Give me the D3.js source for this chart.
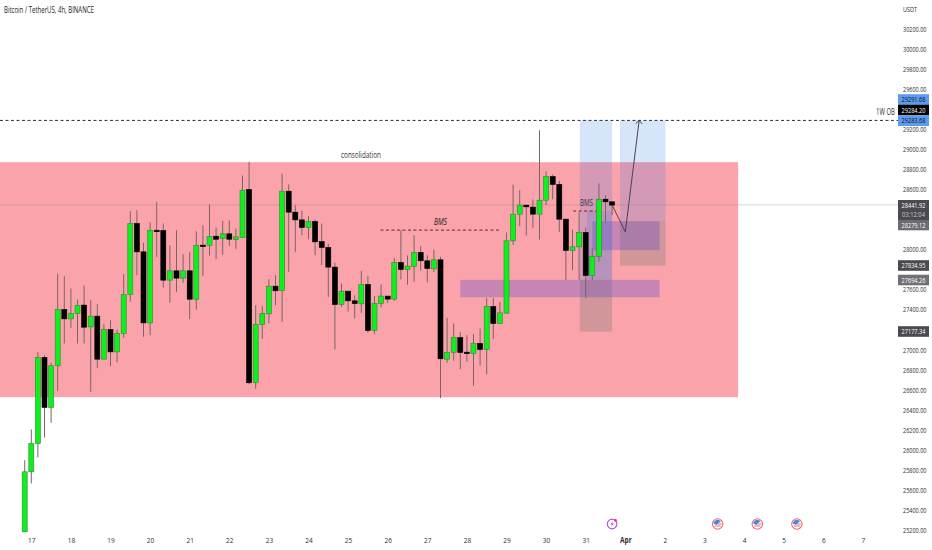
<!DOCTYPE html>
<html>
<head>
<meta charset="utf-8">
<style>
  html, body { margin: 0; padding: 0; background: #fff; }
  svg { display: block; }
  text { font-family: "Open Sans", sans-serif; }
</style>
</head>
<body>
<svg id="chart" width="932" height="550"></svg>
<script src="https://cdnjs.cloudflare.com/ajax/libs/d3/7.8.5/d3.min.js"></script>
<script>
// candles, 4h each
const candleOpen = [25182,25780,26062,26920,26421,26837,27398,27305,27358,27442,27225,27332,26903,27199,26976,27159,27548,28256,27973,27265,28189,28186,27691,27784,27711,27784,27501,28040,28036,28129,28106,28153,28096,28116,28595,26671,27249,27355,27631,27588,28578,28369,28292,28216,28276,28076,28017,27821,27448,27581,27485,27455,27648,27189,27458,27532,27502,27867,27797,27827,27967,27884,27804,27894,26903,26970,27119,26973,26960,27060,27000,27428,27259,27362,28083,28349,28439,28419,28349,28488,28724,28645,28299,27987,28023,28166,27737,27927,28498,28472];
const candleHigh = [25896,26202,26973,26943,26867,27757,27731,27608,27498,27638,27491,27451,27252,27292,27199,27751,28379,28389,28063,28269,28472,28256,28040,28189,27950,27970,28179,28239,28445,28216,28282,28286,28206,28734,28871,27442,27432,27701,27741,28754,28645,28439,28382,28329,28296,28256,28053,27864,27658,27581,27541,27784,27731,27532,27648,27532,27914,28189,27937,28140,28030,27940,27997,27924,27316,27259,27173,27143,27153,27209,27515,27515,27475,28166,28645,28588,28439,28495,29186,28778,28744,28681,28306,28196,28372,28216,28007,28655,28538,28472];
const candleLow = [25182,25664,25923,26122,26268,26587,27059,27216,27059,27059,26577,26813,26903,26833,26873,27116,27475,27741,27126,27142,27923,27618,27465,27574,27664,27302,27398,27734,27937,27900,27943,28030,28003,28116,26654,26608,27106,27259,27442,27276,27774,27973,28140,28100,27940,27841,27525,27000,27425,27379,27309,27365,27166,27153,27419,27465,27485,27698,27645,27674,27784,27668,27771,26515,26867,26887,26804,26877,26638,26837,26751,27103,27252,27359,28040,28229,28136,28213,28096,28439,28498,28173,27691,27791,27691,27515,27691,27874,28263,28339];
const candleClose = [25780,26062,26920,26421,26837,27398,27305,27358,27438,27222,27332,26903,27199,26976,27159,27548,28256,27973,27265,28189,28183,27691,27784,27711,27784,27501,28036,28033,28126,28099,28153,28099,28123,28588,26668,27249,27359,27631,27585,28578,28369,28292,28216,28276,28073,28017,27821,27448,27581,27485,27458,27648,27189,27458,27532,27502,27867,27797,27831,27967,27884,27807,27894,26907,26970,27119,26970,26967,27060,27000,27428,27259,27365,28083,28349,28439,28422,28349,28488,28724,28645,28299,27987,28023,28166,27737,27927,28495,28472,28439];

// the labels hidden behind the price tags in the picture are left out
const priceTicks = [30200,30000,29800,29600,29200,29000,28800,28600,28000,27600,27400,27000,26800,26600,26400,26200,26000,25800,25600,25400,25200];
const dayTickIndex = [1,7,13,19,25,31,37,43,49,55,61,67,73,79,85,91,97,103,109,115,121,127];
const dayTickLabel = ['17','18','19','20','21','22','23','24','25','26','27','28','29','30','31','Apr','2','3','4','5','6','7'];

// drawings on the chart, [index from, index to, price top, price bottom]
const consolidationZone = [-4, 108.1, 28867, 26524];
const targetZones = [[84.1, 89, 29283.68, 27694.26], [90.2, 97.1, 29283.68, 28279.12]];
const stopZones = [[84.1, 89, 27694.26, 27177.34], [90.2, 97.1, 28279.12, 27834.95]];
const demandZones = [[66, 96.2, 27694.26, 27520], [86, 96.2, 28279.12, 27990]];
const bmsShade = [85.2, 89, 28380, 27694.26];
const arrowIndex = [89, 91, 93.1];
const arrowPrice = [28441, 28172, 29283];
const bmsLines = [[53.9, 72, 28190], [83.1, 86.9, 28380]];
const flagEvents = [105, 111, 117];
const boltEvent = 89;

const priceTags = [
  { value: '29291.68', bg: '#5c9cf0', fg: '#111', y: 99.5 },
  { value: '29284.20', bg: '#000', fg: '#fff', y: 110 },
  { value: '29283.68', bg: '#5c9cf0', fg: '#111', y: 120.7 },
  { value: '28279.12', bg: '#6c6c72', fg: '#fff', y: 225 },
  { value: '27834.95', bg: '#4a4a50', fg: '#fff', y: 265.5 },
  { value: '27694.26', bg: '#707076', fg: '#fff', y: 280 },
  { value: '27177.34', bg: '#4a4a50', fg: '#fff', y: 331.5 },
];

const svg = d3.select('#chart');
const x = d3.scaleLinear().domain([0, 127]).range([24.7, 862.9]);
const y = d3.scaleLinear().domain([25200, 30200]).range([530, 28.5]);

// the picture's text is narrow, squeeze it sideways to the width it has there
const squeeze = (sel, width) => sel.each(function () {
  const k = width / this.getComputedTextLength();
  const px = +this.getAttribute('x') || 0;
  this.setAttribute('transform', `translate(${px * (1 - k)},0) scale(${k},1)`);
});

const drawZone = (d, fill, opacity) => {
  svg.append('rect')
    .attr('x', x(d[0])).attr('width', x(d[1]) - x(d[0]))
    .attr('y', y(d[2])).attr('height', y(d[3]) - y(d[2]))
    .attr('fill', fill).attr('fill-opacity', opacity);
};

// zones go under the candles
drawZone(consolidationZone, '#fba3ab', 1);
targetZones.forEach(d => drawZone(d, '#2170e6', 0.18));
drawZone(bmsShade, '#2170e6', 0.16);
stopZones.forEach(d => drawZone(d, '#6e7a70', 0.3));
demandZones.forEach(d => drawZone(d, '#5a48c8', 0.32));

// last price line and the 1W OB line
svg.append('line').attr('x1', 0).attr('x2', 898).attr('y1', y(28441.92)).attr('y2', y(28441.92))
  .attr('stroke', '#8a8a8a').attr('stroke-opacity', 0.35).attr('stroke-width', 1);
svg.append('line').attr('x1', 0).attr('x2', 898).attr('y1', y(29283.68)).attr('y2', y(29283.68))
  .attr('stroke', '#333').attr('stroke-width', 1).attr('stroke-dasharray', '3,2.5');

bmsLines.forEach(d => {
  svg.append('line').attr('x1', x(d[0])).attr('x2', x(d[1])).attr('y1', y(d[2])).attr('y2', y(d[2]))
    .attr('stroke', '#5a2a30').attr('stroke-width', 1).attr('stroke-dasharray', '3,2.5');
});

const candles = svg.append('g').selectAll('g').data(candleOpen).enter().append('g');
candles.append('line')
  .attr('x1', (d, i) => x(i)).attr('x2', (d, i) => x(i))
  .attr('y1', (d, i) => y(candleHigh[i])).attr('y2', (d, i) => y(candleLow[i]))
  .attr('stroke', '#7a6468').attr('stroke-width', 1);
candles.append('rect')
  .attr('x', (d, i) => x(i) - 2.5).attr('width', 5)
  .attr('y', (d, i) => y(Math.max(d, candleClose[i])))
  .attr('height', (d, i) => Math.max(1.5, Math.abs(y(d) - y(candleClose[i]))))
  .attr('fill', (d, i) => candleClose[i] >= d ? '#0ef01e' : '#000')
  .attr('stroke', (d, i) => candleClose[i] >= d ? '#2f8a33' : '#000')
  .attr('stroke-width', 0.6);

// arrow
const arrowPts = arrowIndex.map((d, i) => [x(d), y(arrowPrice[i])]);
svg.append('path').attr('d', d3.line()(arrowPts)).attr('fill', 'none').attr('stroke', '#4a4258').attr('stroke-width', 1);
const tip = arrowPts[2];
svg.append('path').attr('d', d3.line()([[tip[0] - 3.5, tip[1] + 3], tip, [tip[0] + 3, tip[1] + 3.5]]))
  .attr('fill', 'none').attr('stroke', '#4a4258').attr('stroke-width', 1);

// texts on the chart
svg.append('text').attr('x', 4).attr('y', 13).attr('font-size', 9).attr('fill', '#1c1c1c')
  .text('Bitcoin / TetherUS, 4h, BINANCE').call(squeeze, 90);
svg.append('text').attr('x', 341).attr('y', 158).attr('font-size', 9).attr('fill', '#333')
  .text('consolidation').call(squeeze, 40);
svg.append('text').attr('x', 434).attr('y', 225).attr('font-size', 8.5).attr('font-style', 'italic').attr('fill', '#222')
  .text('BMS').call(squeeze, 13);
svg.append('text').attr('x', 580).attr('y', 206).attr('font-size', 8.5).attr('fill', '#3a3a55')
  .text('BMS').call(squeeze, 13);
svg.append('text').attr('x', 876).attr('y', 115).attr('font-size', 9).attr('fill', '#333')
  .text('1W OB').call(squeeze, 19);

// axes
const yAxis = svg.append('g').attr('transform', 'translate(903,0)')
  .call(d3.axisRight(y).tickValues(priceTicks).tickSize(0).tickPadding(0).tickFormat(d3.format('.2f')));
yAxis.select('.domain').remove();
yAxis.selectAll('text').attr('font-size', 8).attr('fill', '#2e2e2e').attr('font-family', '"Open Sans", sans-serif').call(squeeze, 23.5);

const xAxis = svg.append('g').attr('transform', 'translate(0,537.5)')
  .call(d3.axisBottom(x).tickValues(dayTickIndex).tickSize(0).tickPadding(0)
    .tickFormat((d, i) => dayTickLabel[i]));
xAxis.select('.domain').remove();
xAxis.selectAll('text').attr('font-size', 8).attr('fill', '#2e2e2e').attr('font-family', '"Open Sans", sans-serif')
  .attr('font-weight', d => d === 91 ? 'bold' : 'normal')
  .each(function () {
    d3.select(this).call(squeeze, this.getComputedTextLength() * 0.82);
  });

svg.append('text').attr('x', 903).attr('y', 12).attr('font-size', 8).attr('fill', '#2e2e2e').text('USDT').call(squeeze, 14);

// price tags over the axis
priceTags.forEach(t => {
  svg.append('rect').attr('x', 898).attr('y', t.y - 5.3).attr('width', 31).attr('height', 10.6).attr('fill', t.bg);
  svg.append('text').attr('x', 913.5).attr('y', t.y + 2.8).attr('text-anchor', 'middle')
    .attr('font-size', 8).attr('fill', t.fg).text(t.value).call(squeeze, 24);
});
// last price tag with countdown
svg.append('rect').attr('x', 898).attr('y', 200).attr('width', 31).attr('height', 20).attr('fill', '#4a4a50');
svg.append('text').attr('x', 913.5).attr('y', 208).attr('text-anchor', 'middle').attr('font-size', 8).attr('fill', '#fff').text('28441.92').call(squeeze, 24);
svg.append('text').attr('x', 913.5).attr('y', 217.5).attr('text-anchor', 'middle').attr('font-size', 8).attr('fill', '#c8c8cc').text('03:12:04').call(squeeze, 23);

// event icons
const bolt = svg.append('g').attr('transform', `translate(${x(boltEvent)},524)`);
bolt.append('circle').attr('r', 4.8).attr('fill', '#fff').attr('stroke', '#b05ad0').attr('stroke-width', 1.2);
bolt.append('path').attr('d', 'M1,-3 L-1.8,0.6 L0,0.6 L-1,3 L1.8,-0.6 L0,-0.6 Z').attr('fill', '#b05ad0');
bolt.append('circle').attr('cx', 3.4).attr('cy', -3.6).attr('r', 1.4).attr('fill', '#e0357c');

flagEvents.forEach(d => {
  const g = svg.append('g').attr('transform', `translate(${x(d)},524)`);
  g.append('circle').attr('r', 5.2).attr('fill', '#fff').attr('stroke', '#ec6b72').attr('stroke-width', 1.1);
  g.append('path').attr('d', 'M-4.2,-0.5 A4.2,4.2 0 0 1 0.5,-4.2 L3.4,-3 L1,-1 L-1,1 Z').attr('fill', '#4a86dc');
  g.append('path').attr('d', 'M-3,2 L3,2').attr('stroke', '#ec6b72').attr('stroke-width', 1);
  g.append('path').attr('d', 'M0,0 L4,0').attr('stroke', '#ec6b72').attr('stroke-width', 1);
});
</script>
</body>
</html>
